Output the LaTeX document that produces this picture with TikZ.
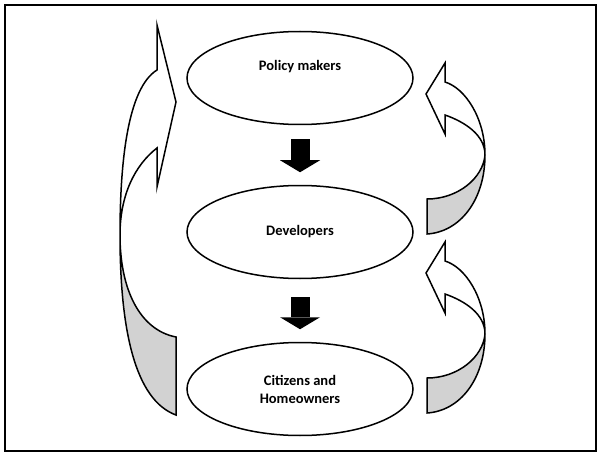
\documentclass[tikz,border=0pt]{standalone}
\usepackage{fontspec}
\setmainfont{Carlito}
\usetikzlibrary{arrows.meta,shapes.geometric}

\begin{document}
\begin{tikzpicture}[x=1pt,y=-1pt]
    \tikzset{actor/.style={ellipse, draw, line width=1.5pt, minimum width=226pt, minimum height=93pt, align=center, font=\fontsize{14.5}{18}\selectfont\bfseries},
             pusharrow/.style={line width=19pt, -{Triangle[width=40pt,length=12pt,line width=0pt]}},
             loopband/.style={draw, line width=1.5pt, line join=miter},
             backside/.style={fill=gray!35}}
    \useasboundingbox (0,0) rectangle (598,452);
    \draw[line width=1.5pt] (5,5) rectangle (596,451);
    \node[actor, text depth=25pt] (policy) at (300,78) {Policy makers};
    \node[actor] (dev) at (300,232) {Developers};
    \node[actor] (citizens) at (300,389) {Citizens and\\Homeowners};
    \draw[pusharrow, shorten <=14pt, shorten >=12.5pt] (policy) -- (dev);
    \draw[pusharrow, shorten <=18pt, shorten >=12.5pt] (dev) -- (citizens);
    % feedback on the left
    \fill[backside] (120,235) .. controls (120,330) and (135,400) .. (176,415) -- (176,337)
        .. controls (140,330) and (120,290) .. (120,235) -- cycle;
    \path[loopband] (176,415) .. controls (135,400) and (120,330) .. (120,235)
        .. controls (120,160) and (128,88) .. (157,70) -- (157,25) -- (176,102) -- (157,187) -- (157,148)
        .. controls (135,165) and (120,195) .. (120,235)
        .. controls (120,290) and (140,330) .. (176,337) -- cycle;
    % feedback on the right
    \foreach \dy in {0,179} {
        \begin{scope}[shift={(0,\dy)}]
            \fill[backside] (485,155) .. controls (485,200) and (460,232) .. (427,234) -- (427,199)
                .. controls (458,199) and (483,178) .. (485,155) -- cycle;
            \path[loopband] (427,234) .. controls (460,232) and (485,200) .. (485,155)
                .. controls (485,118) and (465,88) .. (445,82) -- (445,63) -- (426,94) -- (445,134) -- (445,115)
                .. controls (465,122) and (485,135) .. (485,155)
                .. controls (483,178) and (458,199) .. (427,199) -- cycle;
        \end{scope}
    }
\end{tikzpicture}
\end{document}
